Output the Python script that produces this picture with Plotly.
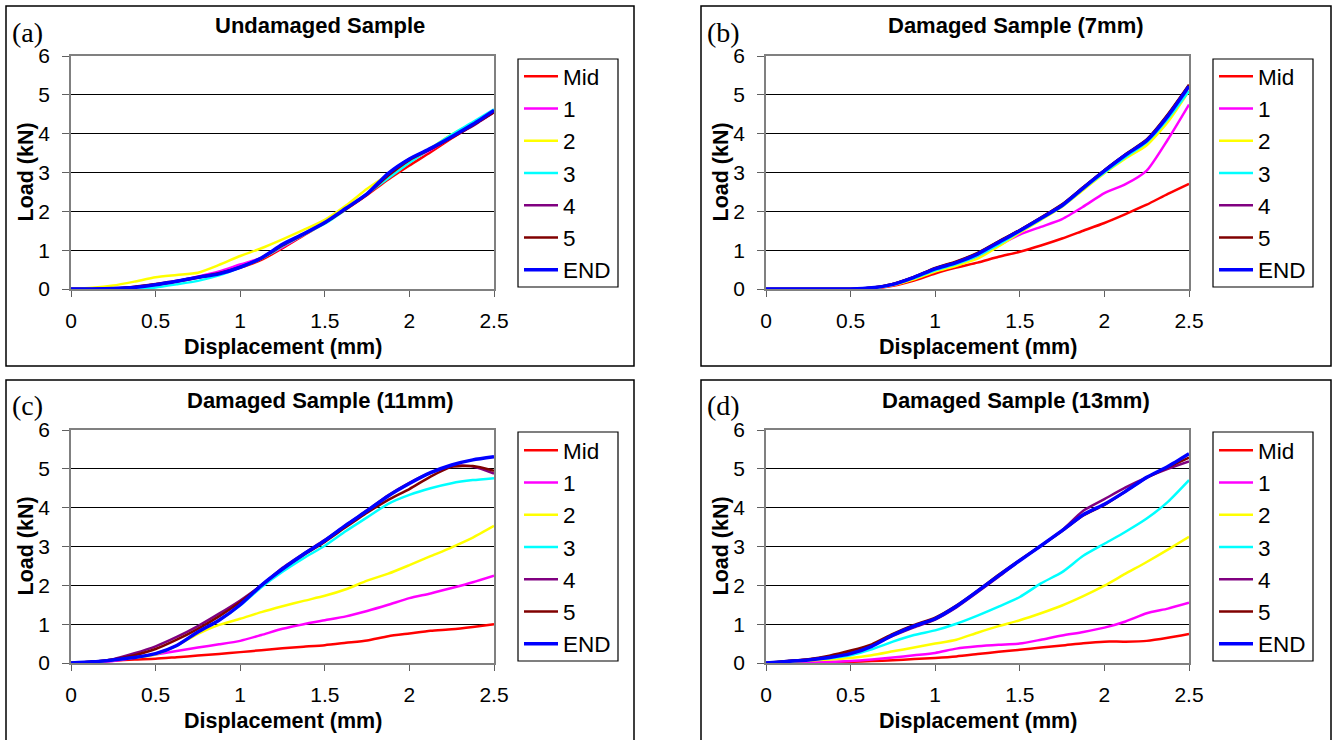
import plotly.graph_objects as go

# ---------------- data ----------------
disp = [0, 0.125, 0.25, 0.375, 0.5, 0.625, 0.75, 0.875, 1.0, 1.125, 1.25,
        1.375, 1.5, 1.625, 1.75, 1.875, 2.0, 2.125, 2.25, 2.375, 2.5]

series_names = ["Mid", "1", "2", "3", "4", "5", "END"]
series_colors = ["#FF0000", "#FF00FF", "#FFFF00", "#00FFFF", "#800080", "#800000", "#0000FF"]

panel_titles = ["Undamaged Sample", "Damaged Sample (7mm)",
                "Damaged Sample (11mm)", "Damaged Sample (13mm)"]
panel_letters = ["(a)", "(b)", "(c)", "(d)"]
x_title = "Displacement (mm)"
y_title = "Load (kN)"

# (a) Undamaged
a_mid = [0, 0, 0.01, 0.04, 0.10, 0.19, 0.29, 0.39, 0.55, 0.75, 1.05, 1.38, 1.70, 2.05, 2.42, 2.82, 3.18, 3.52, 3.88, 4.22, 4.56]
a_1 = [0, 0, 0.01, 0.04, 0.11, 0.20, 0.32, 0.45, 0.63, 0.80, 1.08, 1.40, 1.70, 2.06, 2.45, 2.90, 3.28, 3.58, 3.90, 4.22, 4.56]
a_2 = [0, 0.03, 0.09, 0.19, 0.30, 0.36, 0.42, 0.62, 0.85, 1.05, 1.28, 1.52, 1.78, 2.15, 2.58, 2.95, 3.28, 3.62, 3.98, 4.28, 4.60]
a_3 = [0, 0, 0, 0.01, 0.04, 0.12, 0.21, 0.35, 0.55, 0.78, 1.10, 1.40, 1.68, 2.05, 2.45, 2.85, 3.25, 3.62, 3.98, 4.30, 4.63]
a_4 = [0, 0, 0.02, 0.06, 0.13, 0.21, 0.31, 0.41, 0.57, 0.80, 1.14, 1.42, 1.71, 2.06, 2.45, 2.95, 3.35, 3.60, 3.90, 4.20, 4.55]
a_5 = [0, 0, 0.01, 0.05, 0.12, 0.20, 0.30, 0.40, 0.56, 0.79, 1.12, 1.41, 1.70, 2.06, 2.44, 2.92, 3.32, 3.60, 3.90, 4.22, 4.56]
a_end = [0, 0, 0.01, 0.04, 0.11, 0.20, 0.30, 0.39, 0.56, 0.80, 1.15, 1.42, 1.71, 2.08, 2.45, 2.98, 3.35, 3.62, 3.92, 4.24, 4.60]

# (b) Damaged 7mm
b_mid = [0, 0, 0, 0, 0, 0.01, 0.08, 0.22, 0.40, 0.55, 0.68, 0.83, 0.96, 1.12, 1.30, 1.50, 1.70, 1.93, 2.17, 2.45, 2.71]
b_1 = [0, 0, 0, 0, 0, 0.02, 0.10, 0.27, 0.48, 0.64, 0.84, 1.12, 1.40, 1.60, 1.80, 2.12, 2.47, 2.70, 3.05, 3.85, 4.75]
b_2 = [0, 0, 0, 0, 0, 0.02, 0.10, 0.25, 0.45, 0.60, 0.78, 1.10, 1.45, 1.78, 2.12, 2.55, 2.98, 3.36, 3.70, 4.30, 5.10]
b_3 = [0, 0, 0, 0, 0, 0.02, 0.11, 0.28, 0.48, 0.64, 0.85, 1.15, 1.48, 1.80, 2.13, 2.58, 3.00, 3.40, 3.78, 4.38, 5.10]
b_4 = [0, 0, 0, 0, 0, 0.03, 0.13, 0.31, 0.53, 0.70, 0.92, 1.22, 1.52, 1.84, 2.17, 2.62, 3.06, 3.46, 3.84, 4.48, 5.25]
b_5 = [0, 0, 0, 0, 0, 0.03, 0.13, 0.31, 0.54, 0.71, 0.93, 1.23, 1.52, 1.84, 2.18, 2.62, 3.06, 3.47, 3.85, 4.50, 5.26]
b_end = [0, 0, 0, 0, 0, 0.03, 0.12, 0.30, 0.52, 0.68, 0.90, 1.20, 1.50, 1.82, 2.15, 2.60, 3.04, 3.45, 3.82, 4.45, 5.22]

# (c) Damaged 11mm
c_mid = [0, 0.03, 0.06, 0.09, 0.11, 0.15, 0.19, 0.23, 0.28, 0.33, 0.38, 0.42, 0.46, 0.52, 0.58, 0.69, 0.76, 0.83, 0.87, 0.93, 1.00]
c_1 = [0, 0.02, 0.05, 0.14, 0.22, 0.31, 0.40, 0.48, 0.57, 0.72, 0.88, 1.00, 1.10, 1.20, 1.34, 1.50, 1.67, 1.79, 1.93, 2.08, 2.25]
c_2 = [0, 0.03, 0.08, 0.14, 0.22, 0.45, 0.75, 0.98, 1.14, 1.31, 1.46, 1.60, 1.73, 1.90, 2.12, 2.30, 2.52, 2.75, 2.98, 3.23, 3.53]
c_3 = [0, 0.03, 0.08, 0.14, 0.24, 0.45, 0.80, 1.10, 1.48, 1.95, 2.35, 2.70, 3.02, 3.40, 3.75, 4.10, 4.33, 4.50, 4.63, 4.71, 4.76]
c_4 = [0, 0.03, 0.10, 0.25, 0.43, 0.67, 0.95, 1.27, 1.61, 2.00, 2.45, 2.82, 3.17, 3.55, 3.93, 4.32, 4.64, 4.90, 5.08, 5.06, 4.88]
c_5 = [0, 0.03, 0.09, 0.20, 0.36, 0.60, 0.88, 1.20, 1.57, 2.00, 2.42, 2.78, 3.12, 3.50, 3.87, 4.20, 4.48, 4.80, 5.05, 5.07, 4.95]
c_end = [0, 0.03, 0.08, 0.14, 0.24, 0.45, 0.80, 1.10, 1.50, 2.00, 2.42, 2.80, 3.15, 3.55, 3.92, 4.30, 4.62, 4.90, 5.10, 5.23, 5.31]

# (d) Damaged 13mm
d_mid = [0, 0, 0.01, 0.02, 0.03, 0.05, 0.07, 0.10, 0.13, 0.17, 0.23, 0.29, 0.34, 0.40, 0.45, 0.51, 0.55, 0.55, 0.57, 0.65, 0.75]
d_1 = [0, 0, 0.01, 0.03, 0.05, 0.09, 0.14, 0.20, 0.26, 0.37, 0.43, 0.47, 0.50, 0.60, 0.71, 0.80, 0.91, 1.07, 1.28, 1.40, 1.55]
d_2 = [0, 0.03, 0.06, 0.09, 0.13, 0.20, 0.30, 0.40, 0.50, 0.60, 0.78, 0.95, 1.10, 1.28, 1.48, 1.72, 1.99, 2.30, 2.60, 2.92, 3.25]
d_3 = [0, 0.04, 0.08, 0.12, 0.20, 0.35, 0.55, 0.72, 0.84, 1.01, 1.22, 1.45, 1.70, 2.05, 2.34, 2.76, 3.07, 3.38, 3.72, 4.15, 4.71]
d_4 = [0, 0.04, 0.09, 0.17, 0.28, 0.45, 0.70, 0.92, 1.12, 1.43, 1.82, 2.22, 2.64, 3.02, 3.42, 3.92, 4.22, 4.52, 4.78, 5.00, 5.19]
d_5 = [0, 0.05, 0.10, 0.19, 0.32, 0.48, 0.75, 0.98, 1.17, 1.48, 1.86, 2.27, 2.65, 3.02, 3.40, 3.80, 4.07, 4.42, 4.77, 5.04, 5.29]
d_end = [0, 0.04, 0.08, 0.14, 0.24, 0.43, 0.72, 0.95, 1.14, 1.46, 1.85, 2.25, 2.64, 3.02, 3.41, 3.82, 4.09, 4.42, 4.78, 5.06, 5.39]

panels = [
    [a_mid, a_1, a_2, a_3, a_4, a_5, a_end],
    [b_mid, b_1, b_2, b_3, b_4, b_5, b_end],
    [c_mid, c_1, c_2, c_3, c_4, c_5, c_end],
    [d_mid, d_1, d_2, d_3, d_4, d_5, d_end],
]

# ---------------- layout helpers ----------------
W, H = 1332, 740
def px(x):
    return x / W
def py(y):
    return 1 - y / H

SANS = "Liberation Sans, Arial, sans-serif"
SERIF = "Liberation Serif, Times New Roman, serif"

# plot-area pixel boxes: (left, right, top, bottom)
plot_boxes = [(71, 494, 56, 289), (766, 1189, 56, 289),
              (71, 494, 430, 663), (766, 1189, 430, 663)]
frame_boxes = [(6, 634, 6, 366), (701, 1331, 6, 366),
               (6, 634, 380, 745), (701, 1331, 380, 745)]
legend_boxes = [(518, 618, 59, 287), (1213, 1313, 59, 287),
                (518, 618, 432, 661), (1213, 1313, 432, 661)]
legend_pos = [(519, 55), (1214, 55), (519, 429), (1214, 429)]

fig = go.Figure()

for p, data in enumerate(panels):
    sfx = "" if p == 0 else str(p + 1)
    leg = "legend" + sfx
    for name, color, vals in zip(series_names, series_colors, data):
        fig.add_trace(go.Scatter(
            x=disp, y=vals, name=name, mode="lines",
            line=dict(color=color, width=3.5 if name == "END" else 2.5,
                      shape="spline", smoothing=0.6),
            xaxis="x" + sfx, yaxis="y" + sfx, legend=leg,
            showlegend=True, hoverinfo="skip"))

layout = dict(
    autosize=True,
    margin=dict(l=0, r=0, t=0, b=0, autoexpand=False),
    paper_bgcolor="white", plot_bgcolor="#C0C0C0",
    font=dict(family=SANS, color="black", size=21),
    shapes=[], annotations=[],
)

for p in range(4):
    sfx = "" if p == 0 else str(p + 1)
    l, r, t, b = plot_boxes[p]
    layout["xaxis" + sfx] = dict(
        domain=[px(l), px(r)], anchor="y" + sfx, range=[0, 2.5],
        tick0=0, dtick=0.5, ticks="outside", ticklen=6, tickcolor="#606060",
        showgrid=False, zeroline=False, showline=True, linecolor="#808080",
        linewidth=1.5, mirror=True, ticklabelstandoff=6, automargin=False,
        tickfont=dict(family=SANS, size=21, color="black"), fixedrange=True)
    layout["yaxis" + sfx] = dict(
        domain=[py(b), py(t)], anchor="x" + sfx, range=[0, 6],
        tick0=0, dtick=1, ticks="outside", ticklen=7, tickcolor="#606060",
        showgrid=True, gridcolor="black", gridwidth=1, zeroline=False,
        showline=True, linecolor="#808080", linewidth=1.5, mirror=True,
        ticklabelstandoff=8, automargin=False,
        tickfont=dict(family=SANS, size=21, color="black"), fixedrange=True)
    lx, ly = legend_pos[p]
    layout["legend" + sfx] = dict(
        x=px(lx), y=py(ly), xanchor="left", yanchor="top",
        bgcolor="rgba(0,0,0,0)", borderwidth=0,
        font=dict(family=SANS, size=22.5, color="black"),
        itemwidth=34, tracegroupgap=0)

    fl, fr, ft, fb = frame_boxes[p]
    layout["shapes"].append(dict(
        type="rect", xref="paper", yref="paper", layer="below",
        x0=px(fl), x1=px(fr), y0=py(fb), y1=py(ft),
        line=dict(color="black", width=1.5), fillcolor="white"))
    bl, br, bt, bb = legend_boxes[p]
    layout["shapes"].append(dict(
        type="rect", xref="paper", yref="paper", layer="below",
        x0=px(bl), x1=px(br), y0=py(bb), y1=py(bt),
        line=dict(color="black", width=1.2), fillcolor="white"))

    cx = (fl + fr) / 2
    title_y = 26 if p < 2 else 400
    layout["annotations"].append(dict(
        text="<b>%s</b>" % panel_titles[p], x=px(cx), y=py(title_y),
        xref="paper", yref="paper", showarrow=False,
        xanchor="center", yanchor="middle",
        font=dict(family=SANS, size=22, color="black")))
    letter_y = 33 if p < 2 else 406
    layout["annotations"].append(dict(
        text=panel_letters[p], x=px(fl + 5), y=py(letter_y),
        xref="paper", yref="paper", showarrow=False,
        xanchor="left", yanchor="middle", borderpad=0,
        font=dict(family=SERIF, size=28, color="black")))
    xt_y = 347 if p < 2 else 721
    layout["annotations"].append(dict(
        text="<b>%s</b>" % x_title, x=px((l + r) / 2), y=py(xt_y),
        xref="paper", yref="paper", showarrow=False,
        xanchor="center", yanchor="middle",
        font=dict(family=SANS, size=21.5, color="black")))
    yt_x = 25 if p % 2 == 0 else 720
    layout["annotations"].append(dict(
        text="<b>%s</b>" % y_title, x=px(yt_x), y=py((t + b) / 2),
        xref="paper", yref="paper", showarrow=False, textangle=-90,
        xanchor="center", yanchor="middle",
        font=dict(family=SANS, size=21.5, color="black")))

fig.update_layout(**layout)

post = (
    "document.documentElement.style.margin='0';"
    "document.documentElement.style.padding='0';"
    "document.documentElement.style.overflow='hidden';"
    "document.body.style.margin='0';"
    "document.body.style.padding='0';"
    "document.body.style.overflow='hidden';"
    "var gd=document.getElementById('{plot_id}');"
    "gd.style.width='100vw';gd.style.height='100vh';"
    "Plotly.Plots.resize(gd);"
)
fig.write_html("out.html", config={"displayModeBar": False, "responsive": True},
               default_width="100vw", default_height="100vh",
               post_script=post)
